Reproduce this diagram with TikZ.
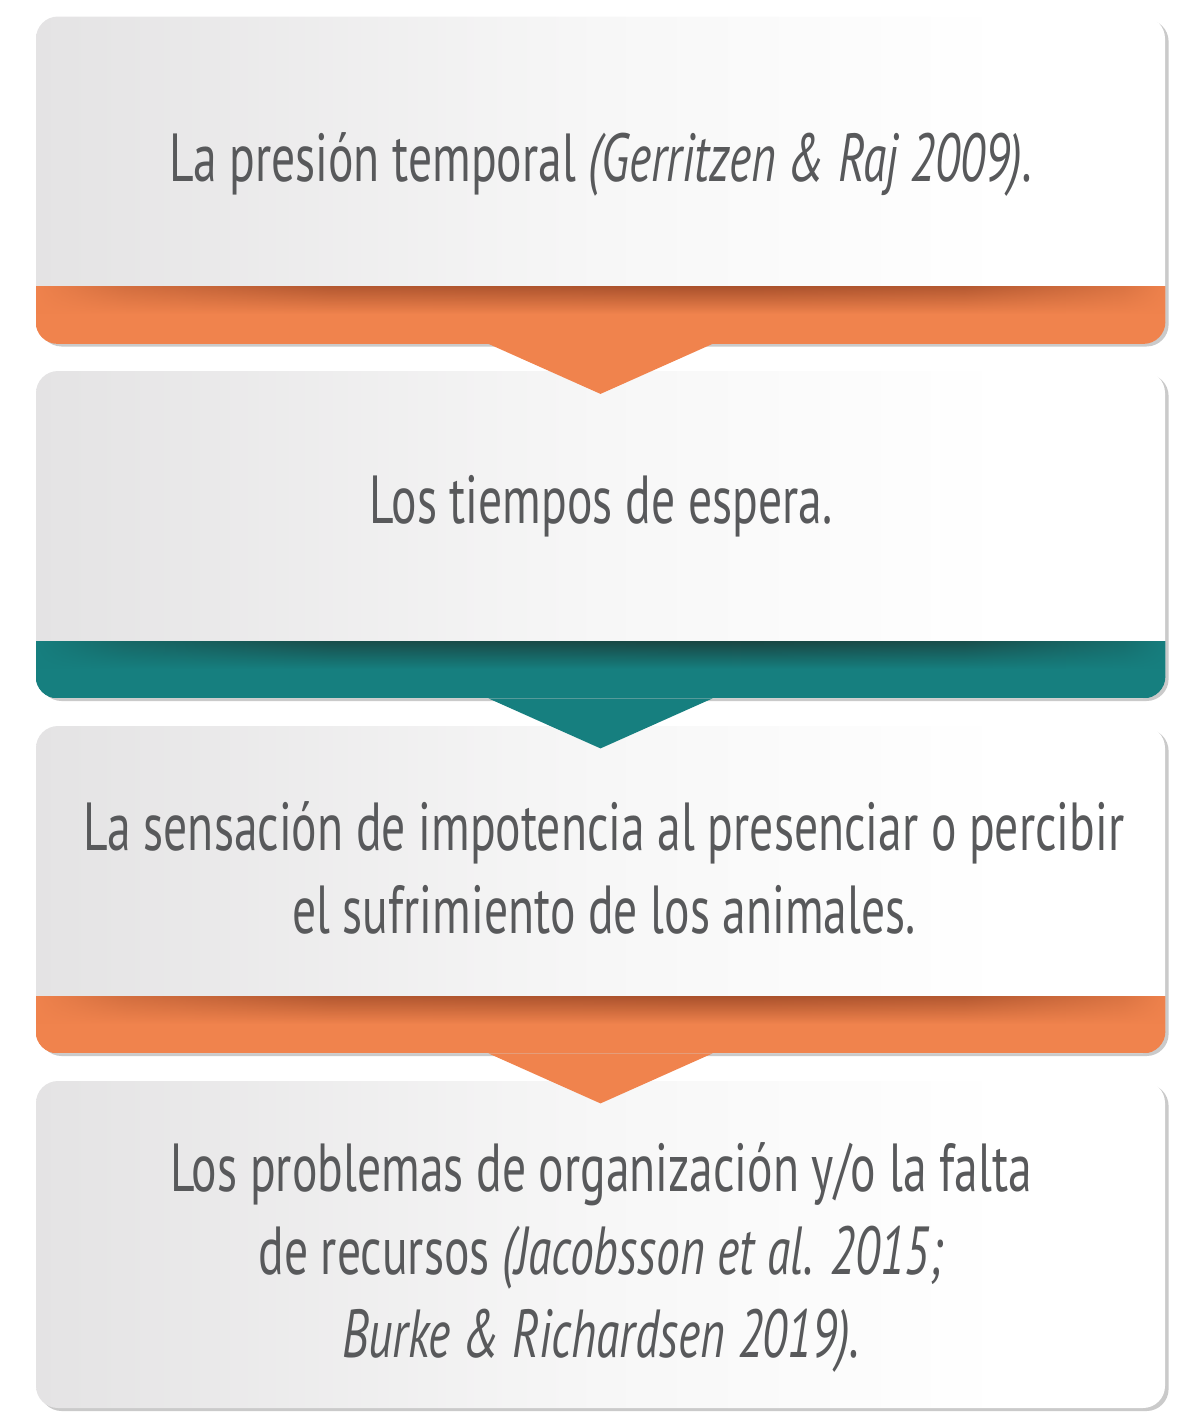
\documentclass[tikz,border=0pt]{standalone}
\usepackage{fontspec}
\setmainfont{PT Sans}[FakeStretch=0.7]
\usetikzlibrary{fadings,shadows}
\definecolor{txt}{HTML}{58595B}
\definecolor{orangeband}{HTML}{F0834D}
\definecolor{orangedark}{HTML}{A9512C}
\definecolor{tealband}{HTML}{167F7F}
\definecolor{tealdark}{HTML}{1A4643}
\definecolor{cardL}{HTML}{E4E3E4}
\definecolor{cardM}{HTML}{F7F7F7}
\definecolor{cardshadow}{HTML}{CACACA}
\pgfdeclarehorizontalshading{cardfill}{100bp}{color(0bp)=(cardL); color(25bp)=(cardL); color(50bp)=(cardM); color(68bp)=(white); color(100bp)=(white)}
\pgfdeclarehorizontalshading{bandfadeshade}{100bp}{color(0bp)=(black); color(25bp)=(black); color(29bp)=(black!60!white); color(38bp)=(white!85!black); color(56bp)=(white); color(66bp)=(white!85!black); color(73bp)=(black!70!white); color(75bp)=(black); color(100bp)=(black)}
\tikzfading[name=fadeends, shade, shading=bandfadeshade]
\begin{document}
\begin{tikzpicture}[x=0.5pt,y=-0.5pt,
  cardbox/.style={rectangle, rounded corners=11pt, shade, shading=cardfill, inner sep=0pt,
    minimum width=564.5pt, minimum height=163.5pt,
    drop shadow={shadow xshift=1.8pt, shadow yshift=-1.5pt, fill=cardshadow, opacity=1}},
  cardtext/.style={text=txt, align=center, inner sep=0pt, anchor=base,
    font=\fontsize{34}{41.5}\selectfont}]
\useasboundingbox (0,0) rectangle (1200,1426);
% cards
\node[cardbox] (card1) at (600.5,180) {};
\node[cardbox] (card2) at (600.5,534.5) {};
\node[cardbox] (card3) at (600.5,889.5) {};
\node[cardbox] (card4) at (600.5,1244.5) {};
% bands
\foreach \c/\top/\bot/\col/\dark in {card1/286/344/orangeband/orangedark, card2/641/698/tealband/tealdark, card3/996/1053/orangeband/orangedark}{
  \begin{scope}
    \clip[rounded corners=11pt] (\c.north west) rectangle (\c.south east);
    \fill[\col] (36,\top) rectangle (1166,\bot);
    \shade[top color=\dark, bottom color=\col, path fading=fadeends, fit fading=true] (36,\top) rectangle (1166,\top+28);
  \end{scope}
  \fill[\col] ([xshift=-56pt]\c.south) -- ([xshift=56pt]\c.south) -- ([yshift=-25pt]\c.south) -- cycle;
}
% texts (anchor base = baseline of the last line)
\node[cardtext] (t1) at (601,181) {La presión temporal \textit{(Gerritzen \& Raj 2009).}};
\node[cardtext] (t2) at (601,523) {Los tiempos de espera.};
\node[cardtext] (t3) at (604,933) {La sensación de impotencia al presenciar o percibir\\el sufrimiento de los animales.};
\node[cardtext] (t4) at (601,1357) {Los problemas de organización y/o la falta\\de recursos \textit{(Jacobsson et al. 2015;}\\\textit{Burke \& Richardsen 2019).}};
\end{tikzpicture}
\end{document}
